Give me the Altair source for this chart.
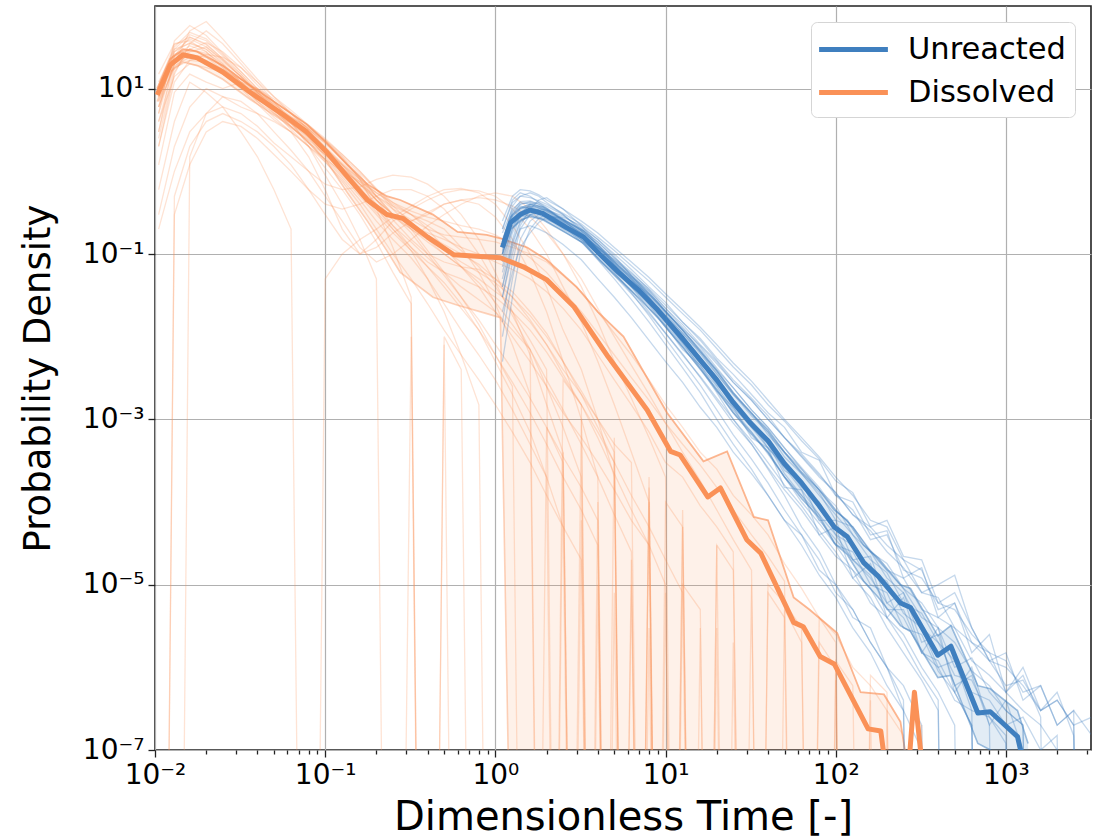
import altair as alt
import pandas as pd

BLUE = "#3f7fbf"
ORANGE = "#fa9157"
FLOOR = 1e-20  # stand-in for zero counts on the log axis

# ---------------- Dissolved (orange) ----------------
dissolved_mean_x = [0.0103, 0.0123, 0.0146, 0.0177, 0.025, 0.036, 0.057, 0.078, 0.1025, 0.135,
                    0.177, 0.23, 0.286, 0.4, 0.57, 0.82, 1.07, 1.46, 2.0, 2.9,
                    4.6, 7.8, 10.7, 12.2, 17.7, 21, 30, 36.3, 56.6, 64.5,
                    81, 98, 155, 184, 205, 264, 290, 330]
dissolved_mean_y = [8.4, 19.4, 25.7, 23.6, 15.9, 9.1, 4.8, 3.0, 1.7, 0.86,
                    0.45, 0.30, 0.27, 0.16, 0.098, 0.093, 0.09, 0.07, 0.049, 0.023,
                    0.0057, 0.0013, 0.00041, 0.00037, 0.000115, 0.000148, 3.5e-5, 2.4e-5, 3.5e-6, 3.1e-6,
                    1.35e-6, 1.1e-6, 1.8e-7, 1.7e-7, 3e-8, 4e-8, 5e-7, 4e-8]

dissolved_band_x = [0.0103, 0.0123, 0.0146, 0.0177, 0.025, 0.036, 0.057, 0.078, 0.1025, 0.135,
                    0.177, 0.23, 0.276, 0.43, 0.6, 0.89, 1.07, 1.54, 2.0, 3.0,
                    4.0, 5.66, 10.2, 16.7, 23, 33, 40, 56.6, 70, 102,
                    140, 192, 240, 280]
dissolved_band_hi = [10, 23, 30, 28, 19, 11, 5.8, 3.7, 2.2, 1.2,
                     0.7, 0.5, 0.45, 0.30, 0.185, 0.17, 0.155, 0.12, 0.085, 0.04,
                     0.02, 0.01, 0.0012, 0.00031, 0.00041, 6.6e-5, 6e-5, 7e-6, 5e-6, 2.6e-6,
                     5e-7, 4.7e-7, 2.2e-7, 3e-8]
dissolved_band_lo = [7, 16, 21, 19, 13, 7.5, 4.0, 2.4, 1.3, 0.55,
                     0.25, 0.11, 0.06, 0.03, 0.024, 0.019, 0.017, 0, 0, 0,
                     0, 0, 0, 0, 0, 0, 0, 0, 0, 0,
                     0, 0, 0, 0]

dissolved_runs_x = [0.0105, 0.013, 0.016, 0.02, 0.025, 0.032, 0.04, 0.05, 0.063, 0.08,
                    0.1, 0.126, 0.16, 0.2, 0.25, 0.32, 0.4, 0.5, 0.63, 0.8,
                    1.0, 1.26, 1.6, 2.0, 2.5, 3.2, 4.0, 5.0, 6.3, 8.0,
                    10, 12.6, 16, 20, 25, 32, 40, 50, 63, 80,
                    100, 126, 160, 200, 250, 320, 400]
dissolved_runs = [
    [5, 38, 58, 44, 27, 16, 10, 6.5, 4.2, 2.6, 1.5, 0.9, 0.55, 0.32, 0.2, 0.11, 0.05, 0.02, 0.006, 0.0015, 0],
    [12, 30, 35, 30, 20, 12, 8, 5, 3.8, 2.2, 1.6, 1.1, 0.7, 0.5, 0.38, 0.3, 0.25, 0.2, 0.12, 0.06,
     0.025, 0.008, 0.002, 0, 0.0004, 0],
    [3, 18, 28, 32, 22, 14, 9, 6, 4.5, 3.4, 2.4, 1.5, 0.8, 0.35, 0.12, 0.03, 0, 0.01, 0.004, 0],
    [1.2, 9, 15, 12, 10, 12, 10, 7, 5, 3.2, 2.2, 1.4, 0.9, 0.5, 0.3, 0.25, 0.3, 0.4, 0.45, 0.4,
     0.28, 0.15, 0.06, 0.02, 0.005, 0.001, 0.0002, 0],
    [0.6, 4, 12, 9, 6, 3, 1.5, 0.6, 0.2, 0, 0.05, 0.1, 0.15, 0.2, 0.28, 0.38, 0.5, 0.6, 0.62, 0.55,
     0.4, 0.22, 0.1, 0.04, 0.012, 0.004, 0.001, 0.0002, 0],
    [8, 25, 30, 26, 18, 12, 8.5, 6, 4.5, 3.2, 2.2, 1.4, 0.85, 0.5, 0.35, 0.26, 0.2, 0.17, 0.16, 0.15,
     0.14, 0.12, 0.1, 0.08, 0.055, 0.035, 0.02, 0.011, 0.006, 0.003, 0.0015, 0.0008, 0.0004, 0.00025,
     0.00012, 7e-5, 4e-5, 1.8e-5, 9e-6, 4e-6, 2.5e-6, 1e-6, 6e-7, 3e-7, 1.5e-7, 0],
    [10, 22, 25, 20, 15, 10, 6.5, 4.2, 3, 2, 1.3, 0.8, 0.45, 0.25, 0.15, 0.09, 0.05, 0.025, 0.012, 0.006,
     0.003, 0.0013, 0.0005, 0.0002, 0, 6e-5, 0],
    [0.3, 2, 6, 10, 8, 6, 5, 4, 3, 1.5, 0.6, 0.2, 0.1, 0.15, 0.25, 0.35, 0.45, 0.55, 0.6, 0.58,
     0.5, 0.35, 0.2, 0.1, 0.04, 0.015, 0.005, 0.0015, 0.0004, 0.0001, 0],
    [6, 20, 26, 24, 17, 11, 7, 5, 3.5, 2.4, 1.6, 1.0, 0.6, 0.4, 0.28, 0.2, 0.15, 0.1, 0.07, 0.05,
     0.035, 0.025, 0.015, 0.008, 0.004, 0.002, 0.001, 0.0005, 0.0003, 0, 0.0001, 5e-5, 0, 3e-5, 1.5e-5,
     0, 8e-6, 4e-6, 0, 2e-6, 1e-6, 0, 4e-7, 0],
    [9, 28, 40, 32, 22, 14, 9, 6, 4, 2.6, 1.8, 1.2, 0.75, 0.45, 0.3, 0.22, 0.18, 0.15, 0.12, 0.1,
     0.08, 0.065, 0.05, 0.035, 0.022, 0.012, 0.006, 0.003, 0.0015, 0.0007, 0.0003, 0.0002, 9e-5, 5e-5,
     2.5e-5, 0, 1e-5, 6e-6, 3e-6, 0, 1.2e-6, 6e-7, 0, 3e-7, 0],
    [0, 0, 1.5, 5, 8, 7, 5, 3, 1.8, 1, 0.5, 0.25, 0.12, 0.08, 0.1, 0.15, 0.22, 0.3, 0.4, 0.5,
     0.55, 0.5, 0.35, 0.2, 0.1, 0.04, 0.015, 0.005, 0.0018, 0.0006, 0.0002, 0],
    [2, 15, 35, 50, 35, 20, 12, 7, 4, 2, 0.9, 0.4, 0.15, 0.05, 0, 0.01, 0],
    [7, 24, 33, 28, 19, 12, 8, 5.5, 3.8, 2.5, 1.6, 1.0, 0.6, 0.35, 0.22, 0.14, 0.09, 0.06, 0.04, 0.028,
     0.02, 0.012, 0.007, 0, 0.003, 0.0015, 0, 0.0006, 0, 0.0002, 0, 8e-5, 0, 3e-5, 0, 1e-5, 0],
    [4, 14, 20, 18, 16, 13, 10, 7.5, 5.2, 3.5, 2.3, 1.4, 0.8, 0.45, 0.26, 0.15, 0.1, 0.08, 0.07, 0.065,
     0.05, 0.035, 0.02, 0.011, 0.005, 0.002, 0.0008, 0.0003, 0, 0.0001, 0],
    [6, 30, 45, 38, 25, 15, 9, 5.5, 3.5, 2.2, 1.3, 0.75, 0.4, 0.2, 0.1, 0.05, 0.025, 0.012, 0.006, 0.003,
     0.0015, 0.0007, 0.0003, 0.00012, 5e-5, 2e-5, 0, 8e-6, 0, 3e-6, 0],
    [4, 20, 50, 65, 40, 22, 13, 8, 5, 3.2, 2.0, 1.2, 0.7, 0.4, 0.22, 0.12, 0.07, 0.04, 0.022, 0.012,
     0.006, 0.0028, 0.0012, 0.0005, 0.0002, 8e-5, 3e-5, 0, 1e-5, 0],
    [0.2, 1, 3, 5, 6, 5, 3.5, 2.2, 1.5, 1.0, 0.7, 0.6, 0.65, 0.8, 0.9, 0.85, 0.7, 0.5, 0.3, 0.15,
     0.06, 0.02, 0.006, 0.0015, 0.0004, 0],
    [10, 26, 30, 25, 19, 13, 9, 6.5, 4.6, 3.3, 2.3, 1.5, 0.95, 0.6, 0.42, 0.33, 0.28, 0.25, 0.22, 0.2,
     0.17, 0.13, 0.09, 0.06, 0.035, 0.02, 0.011, 0.006, 0.0032, 0.0017, 0.0009, 0.0005, 0.00028,
     0.00015, 8e-5, 4e-5, 2.2e-5, 1.1e-5, 0, 4e-6, 2e-6, 0, 8e-7, 5e-7, 0, 2e-7, 0],
    [2, 12, 22, 26, 24, 18, 12, 8, 5.5, 3.6, 2.4, 1.6, 1.0, 0.6, 0.35, 0.2, 0.11, 0.06, 0.03, 0.014,
     0.006, 0.0025, 0, 0.0008, 0.0003, 0, 0.0001, 0],
    [15, 35, 38, 28, 18, 11, 7, 4.5, 3, 2, 1.4, 1.0, 0.75, 0.55, 0.42, 0.3, 0.2, 0.12, 0.07, 0.04,
     0.02, 0.01, 0.005, 0.0025, 0.0012, 0.0006, 0.0003, 0.00014, 6e-5, 3e-5, 0, 1e-5, 5e-6, 0, 2e-6, 0],
    [9, 32, 48, 40, 26, 16, 10, 6.2, 4, 2.7, 1.8, 1.2, 0.8, 0.55, 0.4, 0.3, 0.22, 0.16, 0.11, 0.07,
     0.04, 0.02, 0.009, 0.004, 0, 0.001, 0],
    [0, 0.5, 2, 4, 5, 4, 3, 2, 1.2, 0.6, 0.3, 0.15, 0.1, 0.12, 0.18, 0.25, 0.32, 0.4, 0.45, 0.48,
     0.45, 0.38, 0.28, 0.18, 0.1, 0.05, 0.022, 0.01, 0.0045, 0.002, 0.0009, 0.0004, 0.00018, 8e-5,
     3.5e-5, 1.5e-5, 0, 5e-6, 2e-6, 0, 7e-7, 0],
    [7, 18, 22, 21, 17, 13, 9.5, 7, 5, 3.6, 2.5, 1.6, 1.0, 0.62, 0.38, 0.24, 0.16, 0.11, 0.08, 0.06,
     0.045, 0.03, 0.018, 0.01, 0.005, 0.0022, 0.001, 0.0004, 0, 0.00015, 0, 5e-5, 0],
    [3, 25, 42, 35, 23, 14, 8.5, 5.2, 3.2, 2, 1.1, 0.6, 0.3, 0.14, 0.06, 0.025, 0, 0.008, 0],
    [5, 22, 30, 27, 20, 13, 8.5, 5.5, 3.5, 2.2, 1.4, 0.85, 0.5, 0.3, 0.18, 0.11, 0.07, 0.045, 0.025,
     0.012, 0.005, 0.002, 0.0007, 0.0002, 5e-5, 0, 1e-5, 0],
    [8, 28, 36, 30, 21, 14, 9, 6, 4, 2.7, 1.8, 1.15, 0.7, 0.45, 0.3, 0.2, 0.14, 0.1, 0.07, 0.045,
     0.026, 0.014, 0.007, 0.003, 0.0013, 0.0005, 0.0002, 7e-5, 2.5e-5, 0, 8e-6, 0],
    [0, 0.3, 1.2, 3, 4, 3.5, 2.5, 1.6, 1.0, 0.6, 0.4, 0.35, 0.4, 0.5, 0.6, 0.6, 0.5, 0.35, 0.2, 0.1,
     0.045, 0.018, 0.007, 0.0025, 0.0008, 0.0002, 0],
    [11, 34, 42, 34, 23, 15, 9.5, 6.2, 4.1, 2.8, 1.9, 1.25, 0.8, 0.5, 0.3, 0.18, 0.1, 0.055, 0.03,
     0.016, 0.008, 0.004, 0.0018, 0.0008, 0.00035, 0.00015, 6e-5, 0, 2e-5, 0],
    [6, 19, 24, 22, 17, 12, 8, 5.5, 3.8, 2.6, 1.7, 1.1, 0.7, 0.45, 0.3, 0.22, 0.17, 0.13, 0.1, 0.075,
     0.05, 0.03, 0.016, 0.008, 0.0035, 0.0015, 0.0006, 0.00022, 8e-5, 3e-5, 1e-5, 0, 3e-6, 0],
    [2.5, 16, 30, 36, 28, 18, 11, 6.8, 4.3, 2.8, 1.8, 1.1, 0.65, 0.36, 0.2, 0.12, 0.08, 0.06, 0.05,
     0.04, 0.03, 0.02, 0.012, 0.0065, 0.0032, 0.0015, 0.0007, 0.0003, 0.00012, 5e-5, 2e-5, 8e-6, 0,
     3e-6, 0],
]

# ---------------- Unreacted (blue) ----------------
unreacted_x = [1.1, 1.23, 1.4, 1.6, 1.9, 2.6, 3.3, 4.1, 5.3, 7.0,
               9.0, 12.6, 16, 20, 25, 31.6, 40, 50, 63, 80,
               98, 117, 146, 178, 240, 275, 398, 475, 684, 810,
               1170, 1350]
unreacted_mean_y = [0.12, 0.24, 0.3, 0.34, 0.31, 0.21, 0.16, 0.10, 0.06, 0.036,
                    0.021, 0.0095, 0.0052, 0.003, 0.0016, 0.0009, 0.00055, 0.00029, 0.00017, 9e-5,
                    5e-5, 3.8e-5, 1.85e-5, 1.26e-5, 6e-6, 5.3e-6, 1.4e-6, 1.8e-6, 2.8e-7, 2.9e-7,
                    1.45e-7, 4e-8]
unreacted_hi = [0.14, 0.28, 0.36, 0.40, 0.37, 0.25, 0.19, 0.12, 0.072, 0.044,
                0.026, 0.012, 0.0066, 0.0039, 0.0021, 0.0012, 0.00075, 0.0004, 0.00023, 0.00014,
                8e-5, 6e-5, 3e-5, 2.1e-5, 1e-5, 9e-6, 2.4e-6, 3.2e-6, 6e-7, 5.5e-7,
                3e-7, 1.2e-7]
unreacted_lo = [0.1, 0.2, 0.25, 0.29, 0.26, 0.18, 0.135, 0.083, 0.05, 0.029,
                0.017, 0.0075, 0.0041, 0.0023, 0.0012, 0.00068, 0.0004, 0.0002, 0.00011, 6.5e-5,
                3.2e-5, 2.3e-5, 1.1e-5, 7e-6, 3.2e-6, 2.7e-6, 7.5e-7, 8e-7, 1.2e-7, 1e-7,
                4e-8, 1e-8]

unreacted_runs_x = [1.1, 1.26, 1.4, 1.6, 1.8, 2.0, 2.5, 3.2, 4.0, 5.0,
                    6.3, 8.0, 10, 12.6, 16, 20, 25, 32, 40, 50,
                    63, 80, 100, 126, 160, 200, 250, 320, 400, 500,
                    630, 800, 1000, 1260, 1600, 2000, 2500, 3200]
unreacted_runs = [
    [0.2, 0.45, 0.55, 0.5, 0.42, 0.36, 0.25, 0.17, 0.1, 0.062, 0.04, 0.024, 0.013, 0.0075, 0.004,
     0.0022, 0.0012, 0.0007, 0.0004, 0.0002, 0.00012, 6e-5, 3.5e-5, 2e-5, 1.2e-5, 6e-6, 4e-6, 1.5e-6,
     1e-6, 4e-7, 3e-7, 0],
    [0.05, 0.15, 0.3, 0.4, 0.42, 0.38, 0.3, 0.2, 0.14, 0.09, 0.055, 0.035, 0.02, 0.012, 0.0068,
     0.0038, 0.0021, 0.0012, 0.0007, 0.0004, 0.00025, 0.00014, 8e-5, 5e-5, 2.5e-5, 1.8e-5, 9e-6, 6e-6,
     3e-6, 2e-6, 9e-7, 6e-7, 3e-7, 2e-7, 0],
    [0.015, 0.08, 0.2, 0.3, 0.33, 0.3, 0.25, 0.18, 0.12, 0.075, 0.05, 0.03, 0.018, 0.01, 0.0055,
     0.0028, 0.0014, 0.0008, 0.0005, 0.00022, 0.00012, 7e-5, 3e-5, 2.5e-5, 1e-5, 8e-6, 3e-6, 2.5e-6,
     9e-7, 5e-7, 2e-7, 0],
    [0.12, 0.3, 0.38, 0.35, 0.3, 0.27, 0.2, 0.15, 0.1, 0.07, 0.048, 0.032, 0.019, 0.011, 0.0065,
     0.0036, 0.002, 0.0011, 0.0007, 0.00035, 0.00022, 0.00013, 6e-5, 5e-5, 2.5e-5, 1.5e-5, 1.2e-5, 5e-6,
     4e-6, 3e-6, 1.2e-6, 8e-7, 5e-7, 3e-7, 2e-7, 1e-7],
    [0.08, 0.22, 0.28, 0.3, 0.28, 0.25, 0.19, 0.14, 0.09, 0.058, 0.036, 0.02, 0.011, 0.0062, 0.0032,
     0.0017, 0.0009, 0.0005, 0.00026, 0.00014, 8e-5, 4e-5, 2.2e-5, 1.5e-5, 6e-6, 4e-6, 2e-6, 8e-7,
     4e-7, 0],
    [0.1, 0.25, 0.35, 0.38, 0.36, 0.33, 0.26, 0.19, 0.13, 0.085, 0.058, 0.038, 0.024, 0.015, 0.009,
     0.0052, 0.003, 0.0018, 0.0011, 0.0006, 0.00038, 0.00022, 0.00012, 8e-5, 3.5e-5, 4e-5, 1.5e-5,
     1.2e-5, 6e-6, 5e-6, 2.5e-6, 1.5e-6, 1.2e-6, 5e-7, 6e-7, 2e-7, 3e-7, 1.5e-7],
    [0.03, 0.1, 0.22, 0.35, 0.45, 0.48, 0.35, 0.22, 0.13, 0.075, 0.044, 0.025, 0.014, 0.008, 0.0045,
     0.0025, 0.0013, 0.0007, 0.00038, 0.0002, 0.0001, 5.5e-5, 3e-5, 1.5e-5, 9e-6, 4e-6, 2.5e-6, 1e-6,
     5e-7, 2e-7, 0],
    [0.18, 0.35, 0.42, 0.4, 0.36, 0.32, 0.24, 0.16, 0.11, 0.07, 0.04, 0.026, 0.015, 0.0085, 0.0048,
     0.0028, 0.0016, 0.0009, 0.00045, 0.00028, 0.00015, 0.0001, 4e-5, 3e-5, 1.4e-5, 1.1e-5, 4.5e-6,
     3e-6, 1e-6, 1.2e-6, 3e-7, 2.5e-7, 1.5e-7, 0],
    [0.09, 0.2, 0.26, 0.28, 0.27, 0.26, 0.22, 0.17, 0.12, 0.085, 0.055, 0.036, 0.022, 0.014, 0.008,
     0.005, 0.0028, 0.0017, 0.001, 0.0006, 0.00035, 0.0002, 0.00013, 7e-5, 5e-5, 3e-5, 2e-5, 8e-6,
     1e-5, 1.3e-5, 3e-6, 1.2e-6, 1e-6, 6e-7, 3e-7, 4e-7, 2e-7, 0],
    [0.06, 0.18, 0.3, 0.36, 0.34, 0.3, 0.23, 0.15, 0.09, 0.055, 0.033, 0.019, 0.011, 0.006, 0.0033,
     0.0018, 0.001, 0.00055, 0.0003, 0.00016, 9e-5, 4.5e-5, 2.5e-5, 1.2e-5, 7e-6, 3e-6, 1.5e-6, 7e-7,
     3e-7, 0],
    [0.005, 0.03, 0.1, 0.2, 0.27, 0.3, 0.26, 0.2, 0.14, 0.09, 0.06, 0.037, 0.022, 0.013, 0.0075,
     0.0042, 0.0024, 0.0013, 0.0008, 0.00045, 0.00025, 0.00014, 9e-5, 4e-5, 2.5e-5, 1.2e-5, 8e-6, 3e-6,
     2e-6, 8e-7, 7e-7, 2.5e-7, 1.2e-7, 0],
    [0.14, 0.38, 0.5, 0.55, 0.5, 0.42, 0.3, 0.19, 0.12, 0.075, 0.046, 0.028, 0.016, 0.009, 0.005,
     0.0027, 0.0015, 0.0008, 0.00045, 0.00026, 0.00014, 7e-5, 4e-5, 2e-5, 1.3e-5, 5e-6, 5e-6, 1.5e-6,
     1.2e-6, 5e-7, 2e-7, 0],
    [0.03, 0.12, 0.2, 0.22, 0.2, 0.18, 0.13, 0.085, 0.05, 0.03, 0.017, 0.009, 0.005, 0.0028, 0.0014,
     0.0008, 0.0004, 0.00022, 0.00012, 6e-5, 4e-5, 1.5e-5, 1e-5, 4e-6, 3e-6, 1e-6, 6e-7, 2e-7, 0],
    [0.25, 0.5, 0.6, 0.58, 0.52, 0.45, 0.35, 0.25, 0.18, 0.12, 0.08, 0.052, 0.033, 0.021, 0.013,
     0.008, 0.0048, 0.0029, 0.0017, 0.001, 0.0006, 0.00035, 0.0002, 0.00012, 6e-5, 5e-5, 2e-5, 1.5e-5,
     5e-6, 6e-6, 2e-6, 1.5e-6, 5e-7, 8e-7, 2.5e-7, 0],
    [0.1, 0.28, 0.36, 0.37, 0.34, 0.3, 0.22, 0.15, 0.1, 0.065, 0.04, 0.022, 0.0135, 0.007, 0.0045,
     0.0022, 0.0014, 0.0006, 0.00045, 0.00015, 0.00014, 4e-5, 5e-5, 1.2e-5, 1.8e-5, 4e-6, 7e-6, 1.5e-6,
     3e-6, 5e-7, 1e-6, 2e-7, 4e-7, 1e-7, 0],
    [0.04, 0.14, 0.25, 0.32, 0.35, 0.34, 0.29, 0.21, 0.15, 0.1, 0.065, 0.04, 0.026, 0.015, 0.0095,
     0.0055, 0.0035, 0.002, 0.0012, 0.0008, 0.0004, 0.00032, 0.00012, 0.0001, 4e-5, 4.5e-5, 1.2e-5,
     1.6e-5, 4e-6, 6e-6, 1.5e-6, 2.5e-6, 5e-7, 1e-6, 3e-7, 5e-7, 1.5e-7, 0],
    [0.02, 0.06, 0.12, 0.18, 0.24, 0.28, 0.28, 0.22, 0.15, 0.095, 0.055, 0.03, 0.016, 0.0085, 0.0042,
     0.0021, 0.001, 0.0005, 0.00025, 0.00012, 5e-5, 2.5e-5, 1e-5, 5e-6, 2e-6, 1e-6, 3e-7, 0],
    [0.15, 0.32, 0.4, 0.42, 0.38, 0.33, 0.25, 0.18, 0.12, 0.08, 0.05, 0.03, 0.018, 0.011, 0.0062,
     0.0035, 0.002, 0.0012, 0.00065, 0.0004, 0.00022, 0.00012, 7e-5, 4e-5, 2e-5, 1.4e-5, 6e-6, 4.5e-6,
     2e-6, 1.2e-6, 5e-7, 4e-7, 2e-7, 2.5e-7, 1e-7, 1.5e-7, 0],
    [0.01, 0.05, 0.15, 0.25, 0.3, 0.3, 0.24, 0.16, 0.1, 0.06, 0.034, 0.018, 0.0095, 0.005, 0.0026,
     0.0013, 0.00065, 0.00033, 0.00017, 8e-5, 4e-5, 2e-5, 8e-6, 5e-6, 2e-6, 1e-6, 4e-7, 0],
    [0.2, 0.42, 0.5, 0.48, 0.44, 0.4, 0.31, 0.23, 0.16, 0.11, 0.072, 0.047, 0.03, 0.019, 0.012,
     0.0072, 0.0043, 0.0026, 0.0015, 0.00095, 0.00055, 0.00033, 0.00018, 0.00013, 5e-5, 6e-5, 2.2e-5,
     2e-5, 6e-6, 8e-6, 3e-6, 1.2e-6, 1.5e-6, 4e-7, 6e-7, 2e-7, 3e-7, 0],
    [0.07, 0.2, 0.32, 0.38, 0.37, 0.34, 0.26, 0.17, 0.11, 0.07, 0.043, 0.026, 0.015, 0.0085, 0.0052,
     0.0026, 0.0017, 0.0008, 0.00055, 0.00024, 0.00018, 6e-5, 6e-5, 2e-5, 2.2e-5, 6e-6, 8e-6, 2e-6,
     2.5e-6, 6e-7, 8e-7, 2e-7, 0],
    [0.04, 0.13, 0.24, 0.3, 0.31, 0.29, 0.22, 0.14, 0.085, 0.05, 0.028, 0.015, 0.008, 0.0042, 0.0021,
     0.001, 0.0005, 0.00025, 0.00012, 6e-5, 3e-5, 1.3e-5, 7e-6, 3e-6, 1.5e-6, 6e-7, 3e-7, 1e-7, 0],
    [0.11, 0.3, 0.4, 0.43, 0.4, 0.36, 0.27, 0.19, 0.13, 0.082, 0.052, 0.033, 0.02, 0.012, 0.007,
     0.004, 0.0024, 0.0013, 0.0008, 0.00045, 0.00026, 0.00015, 8e-5, 5e-5, 2.6e-5, 1.5e-5, 9e-6, 4e-6,
     3e-6, 1e-6, 1.3e-6, 5e-7, 3e-7, 2e-7, 0],
    [0.13, 0.33, 0.43, 0.44, 0.4, 0.35, 0.26, 0.18, 0.12, 0.078, 0.05, 0.032, 0.02, 0.0125, 0.0078,
     0.0047, 0.0028, 0.0017, 0.001, 0.0006, 0.00036, 0.00021, 0.00013, 7e-5, 4.5e-5, 2.5e-5, 1.6e-5,
     8e-6, 7e-6, 3e-6, 2e-6, 1.2e-6, 6e-7, 7e-7, 3e-7, 4e-7, 2e-7, 2.5e-7],
]

x_ticks = [0.01, 0.1, 1, 10, 100, 1000]
x_minor = [m * d for d in [0.01, 0.1, 1, 10, 100, 1000] for m in range(2, 10)]
y_ticks = [1e1, 1e-1, 1e-3, 1e-5, 1e-7]


def pos(v):
    return v if v > 0 else FLOOR


def runs_frame(xs, runs, group):
    rows = []
    for i, r in enumerate(runs):
        for x, y in zip(xs, r):
            rows.append({"x": x, "y": pos(y), "run": f"{group}{i}"})
    return pd.DataFrame(rows)


def line_frame(xs, ys, series):
    return pd.DataFrame({"x": xs, "y": [pos(v) for v in ys], "series": series})


def band_frame(xs, lo, hi):
    return pd.DataFrame({"x": xs, "lo": [pos(v) for v in lo], "hi": [pos(v) for v in hi]})


X_SCALE = alt.Scale(type="log", domain=[0.01, 3162], nice=False)
Y_SCALE = alt.Scale(type="log", domain=[1e-7, 100], nice=False)

E = "round(log(datum.value)/LN10)"
SUP = f"toString({E})"
for a, b in [("-", "⁻"), ("0", "⁰"), ("1", "¹"), ("2", "²"), ("3", "³"), ("4", "⁴"),
             ("5", "⁵"), ("6", "⁶"), ("7", "⁷"), ("8", "⁸"), ("9", "⁹")]:
    SUP = f"replace({SUP}, '{a}', '{b}')"
MAJOR = f"abs(log(datum.value)/LN10 - {E}) < 0.001"

x_axis = alt.Axis(
    values=sorted(x_ticks + x_minor), title="Dimensionless Time [-]",
    labelExpr=f"{MAJOR} ? '10' + {SUP} : ''",
    tickSize={"condition": {"test": MAJOR, "value": 7}, "value": 4},
    gridOpacity={"condition": {"test": MAJOR, "value": 1}, "value": 0},
    labelFlush=False, labelOverlap=False, titlePadding=8, titleFontSize=40,
)
y_axis = alt.Axis(
    values=y_ticks, title="Probability Density",
    labelExpr=f"'10' + {SUP}", tickSize=7, labelOverlap=False, titlePadding=25, titleFontSize=37,
)

X = alt.X("x:Q", scale=X_SCALE, axis=x_axis)
Y = alt.Y("y:Q", scale=Y_SCALE, axis=y_axis)

d_runs = runs_frame(dissolved_runs_x, dissolved_runs, "d")
u_runs = runs_frame(unreacted_runs_x, unreacted_runs, "u")

orange_runs = alt.Chart(d_runs).mark_line(clip=True, strokeWidth=1.3, opacity=0.26, color=ORANGE).encode(
    x=X, y=Y, detail="run:N", order="x:Q")
blue_runs = alt.Chart(u_runs).mark_line(clip=True, strokeWidth=1.3, opacity=0.3, color=BLUE).encode(
    x=X, y=Y, detail="run:N", order="x:Q")

d_band = band_frame(dissolved_band_x, dissolved_band_lo, dissolved_band_hi)
u_band = band_frame(unreacted_x, unreacted_lo, unreacted_hi)

orange_area = alt.Chart(d_band).mark_area(clip=True, color=ORANGE, opacity=0.13).encode(
    x=X, y=alt.Y("hi:Q", scale=Y_SCALE, axis=y_axis), y2="lo:Q")
orange_hi = alt.Chart(d_band).mark_line(clip=True, color=ORANGE, strokeWidth=1.8, opacity=0.65).encode(
    x=X, y=alt.Y("hi:Q", scale=Y_SCALE, axis=y_axis))
orange_lo = alt.Chart(d_band).mark_line(clip=True, color=ORANGE, strokeWidth=1.6, opacity=0.4).encode(
    x=X, y=alt.Y("lo:Q", scale=Y_SCALE, axis=y_axis))
blue_area = alt.Chart(u_band).mark_area(clip=True, color=BLUE, opacity=0.15).encode(
    x=X, y=alt.Y("hi:Q", scale=Y_SCALE, axis=y_axis), y2="lo:Q")
blue_hi = alt.Chart(u_band).mark_line(clip=True, color=BLUE, strokeWidth=1.6, opacity=0.5).encode(
    x=X, y=alt.Y("hi:Q", scale=Y_SCALE, axis=y_axis))
blue_lo = alt.Chart(u_band).mark_line(clip=True, color=BLUE, strokeWidth=1.6, opacity=0.5).encode(
    x=X, y=alt.Y("lo:Q", scale=Y_SCALE, axis=y_axis))

means = pd.concat([
    line_frame(unreacted_x, unreacted_mean_y, "Unreacted"),
    line_frame(dissolved_mean_x, dissolved_mean_y, "Dissolved"),
])
legend = alt.Legend(
    title=None, orient="top-right", offset=16,
    symbolType="M-2.15,0H2.15", symbolSize=1024, symbolStrokeWidth=5, symbolOffset=15,
    labelFontSize=30.5, labelOffset=36, labelColor="black", labelFont="DejaVu Sans",
    fillColor="white", strokeColor="#d5d5d5", cornerRadius=6, padding=9, rowPadding=9,
)
mean_lines = alt.Chart(means).mark_line(clip=True, strokeWidth=5, strokeJoin="round").encode(
    x=X, y=Y,
    color=alt.Color("series:N", scale=alt.Scale(domain=["Unreacted", "Dissolved"], range=[BLUE, ORANGE]),
                    legend=legend),
    order="x:Q",
)

chart = alt.layer(
    orange_runs, orange_area, orange_hi, orange_lo,
    blue_runs, blue_area, blue_hi, blue_lo,
    mean_lines,
).properties(
    width=936, height=744,
    autosize=alt.AutoSizeParams(type="none"),
    padding={"left": 155, "top": 6, "right": 8, "bottom": 89},
).configure(
    font="DejaVu Sans",
).configure_view(
    stroke="#222222", strokeWidth=1.6,
).configure_axis(
    labelFont="DejaVu Sans", titleFont="DejaVu Sans",
    labelFontSize=28, titleFontWeight="normal",
    labelColor="black", titleColor="black", tickColor="#222222",
    domain=False, gridColor="#b0b0b0", gridWidth=1.2, tickWidth=1.3, labelPadding=4,
)

chart.save("out.html", embed_options={"renderer": "svg", "actions": False})
